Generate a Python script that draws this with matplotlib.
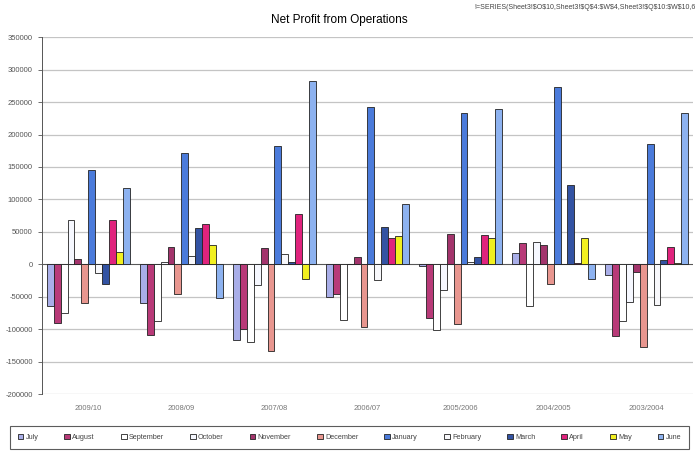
import matplotlib.pyplot as plt
import numpy as np

plt.rcParams["font.family"] = ["Liberation Sans", "DejaVu Sans"]

years = ["2009/10", "2008/09", "2007/08", "2006/07", "2005/2006", "2004/2005", "2003/2004"]
months = ["July", "August", "September", "October", "November", "December",
          "January", "February", "March", "April", "May", "June"]

# net profit per month, one list per month, one value per year
july = [-65000, -60000, -116000, -50000, -2000, 17000, -17000]
august = [-90000, -109000, -99000, -45000, -82000, 33000, -110000]
september = [-75000, -88000, -120000, -86000, -101000, -65000, -88000]
october = [68000, 3000, -32000, 1000, -40000, 34000, -58000]
november = [8000, 26000, 25000, 12000, 46000, 30000, -12000]
december = [-60000, -45000, -133000, -97000, -92000, -30000, -127000]
january = [145000, 171000, 182000, 243000, 233000, 273000, 186000]
february = [-13000, 13000, 16000, -24000, 3000, 1000, -62000]
march = [-30000, 56000, 4000, 57000, 12000, 123000, 7000]
april = [68000, 62000, 77000, 40000, 45000, 2000, 27000]
may = [19000, 29000, -22000, 44000, 41000, 41000, 2000]
june = [117000, -52000, 283000, 93000, 240000, -22000, 233000]

series = [july, august, september, october, november, december,
          january, february, march, april, may, june]
colors = ["#a9aee8", "#b83a78", "#ffffff", "#f6f8ff", "#a3346c", "#e8968f",
          "#4b7bdb", "#f8f8fb", "#3353a3", "#e0237d", "#f2f020", "#8db2f0"]

fig = plt.figure(figsize=(6.96, 4.54), dpi=100)
ax = fig.add_axes([0.060, 0.132, 0.936, 0.786])

x = np.arange(len(years))
w = 0.89 / len(months)
for j, (name, vals) in enumerate(zip(months, series)):
    ax.bar(x + (j - 5.5) * w, vals, width=w, color=colors[j],
           edgecolor="#222222", linewidth=0.6, label=name, zorder=3)

ax.set_xlim(-0.5, len(years) - 0.5)
ax.set_ylim(-200000, 350000)
ax.set_yticks(np.arange(-200000, 350001, 50000))
ax.yaxis.set_major_formatter(plt.FuncFormatter(lambda v, p: f"{int(v)}"))
ax.tick_params(axis="y", labelsize=5.5, labelcolor="#555555", length=3,
               color="#555555", width=0.6)
ax.set_xticks(x)
ax.set_xticklabels(years)
ax.tick_params(axis="x", labelsize=5.5, labelcolor="#777777", length=0, pad=8)
ax.grid(axis="y", color="#c4c4c4", linewidth=0.9, zorder=0)
ax.axhline(0, color="#555555", linewidth=0.7, zorder=2)
for side in ["top", "right", "bottom"]:
    ax.spines[side].set_visible(False)
ax.spines["left"].set_color("#555555")
ax.spines["left"].set_linewidth(0.7)

fig.text(0.487, 0.955, "Net Profit from Operations", ha="center", va="center",
         fontsize=8.5)
fig.text(0.999, 0.983, "!=SERIES(Sheet3!$O$10,Sheet3!$Q$4:$W$4,Sheet3!$Q$10:$W$10,6",
         ha="right", va="center", fontsize=5, color="#444444", parse_math=False)

leg = fig.legend(loc="center", bbox_to_anchor=(0.502, 0.037), ncol=12, fontsize=5.2,
                 frameon=True, fancybox=False, handlelength=0.8, handleheight=0.8,
                 handletextpad=0.3, columnspacing=3.6, borderpad=1.1)
leg.get_frame().set_edgecolor("#333333")
leg.get_frame().set_linewidth(0.8)
for t in leg.get_texts():
    t.set_color("#444444")

fig.savefig("out.png", dpi=100)
